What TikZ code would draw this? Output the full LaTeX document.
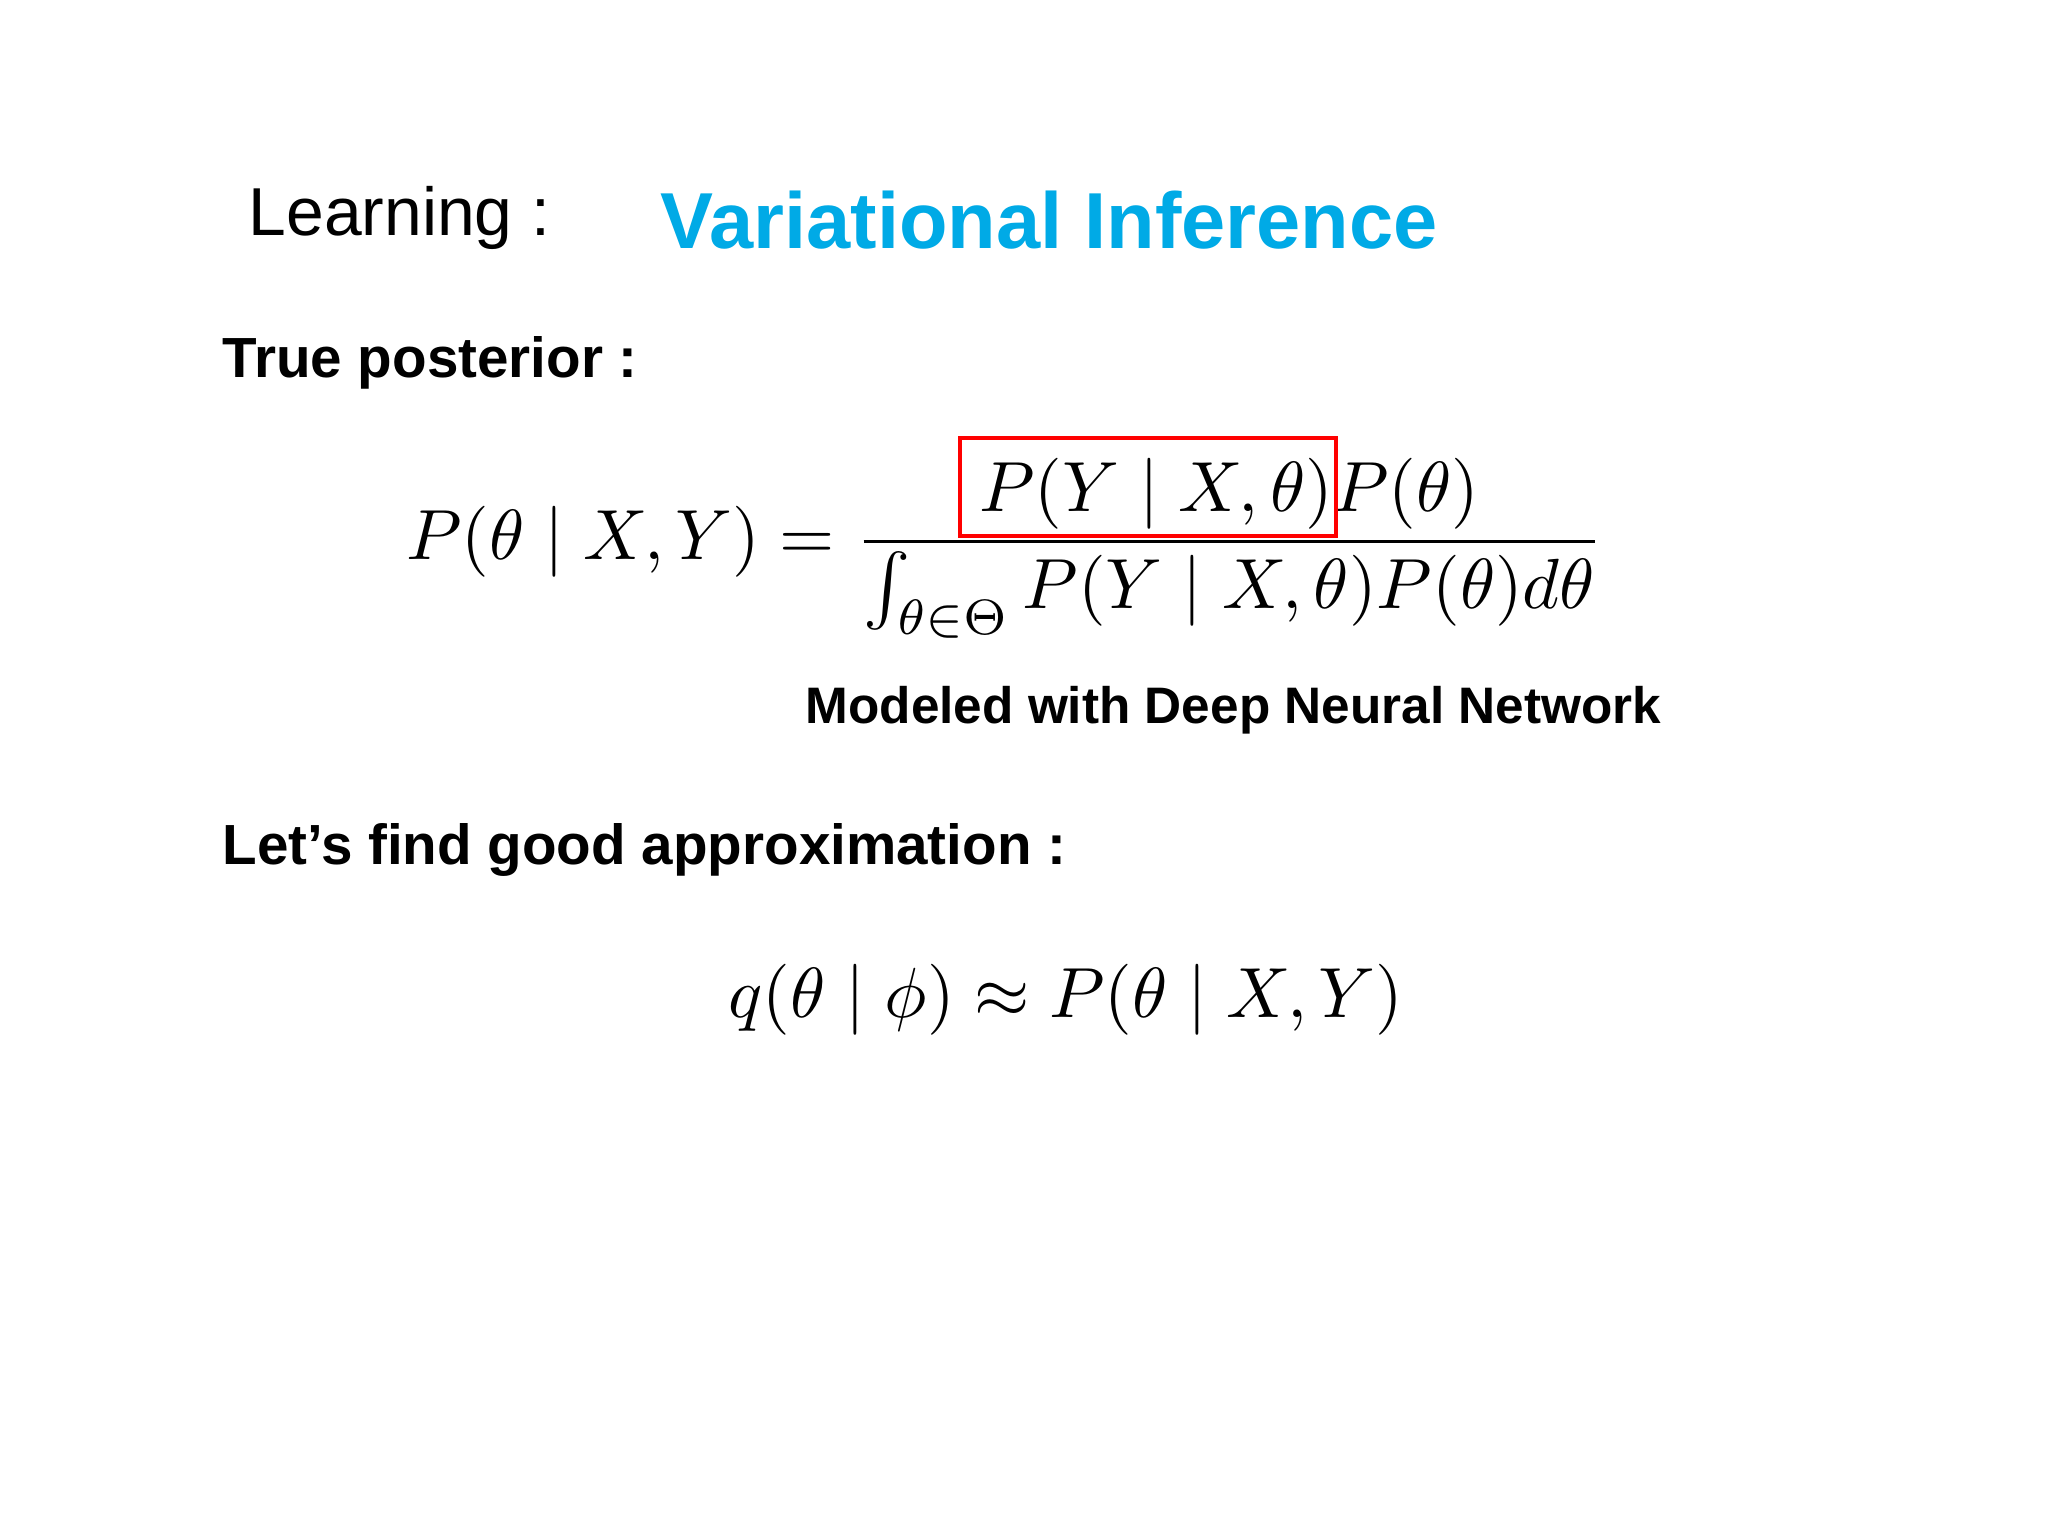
\documentclass[tikz,border=0pt]{standalone}
\usepackage{amsmath}
\usepackage{fontspec}
\setmainfont{Liberation Sans}
\definecolor{vblue}{RGB}{0,170,230}
\begin{document}
\begin{tikzpicture}[x=1cm,y=-1cm,
  lbl/.style={anchor=west,inner sep=0pt,font=\fontsize{16.1}{20}\selectfont\bfseries},
  eq/.style={inner sep=0pt,scale=2.02}]
\useasboundingbox (0,0) rectangle (20.48,15.36);
\fill[white] (0,0) rectangle (20.48,15.36);
\node[anchor=west,inner sep=0pt,font=\fontsize{19.3}{24}\selectfont] (learn) at (2.48,2.18) {Learning :};
\node[anchor=west,inner sep=0pt,font=\fontsize{22.6}{28}\selectfont\bfseries,text=vblue] (title) at (6.6,2.2) {Variational Inference};
\node[lbl] (tp) at (2.22,3.63) {True posterior :};
\node[eq] (eq1) at (10.05,5.48) {$\displaystyle P(\theta\mid X,Y)=\frac{P(Y\mid X,\theta)P(\theta)}{\int_{\theta\in\Theta}P(Y\mid X,\theta)P(\theta)d\theta}$};
\node[draw=red,line width=1.3pt,minimum width=3.76cm,minimum height=0.98cm,inner sep=0pt] (box) at (11.48,4.87) {};
\node[lbl,font=\fontsize{14.6}{18}\selectfont\bfseries] (mod) at (8.05,7.1) {Modeled with Deep Neural Network};
\node[lbl] (lf) at (2.22,8.5) {Let’s find good approximation :};
\node[eq] (eq2) at (10.66,10.0) {$q(\theta\mid\phi)\approx P(\theta\mid X,Y)$};
\end{tikzpicture}
\end{document}
